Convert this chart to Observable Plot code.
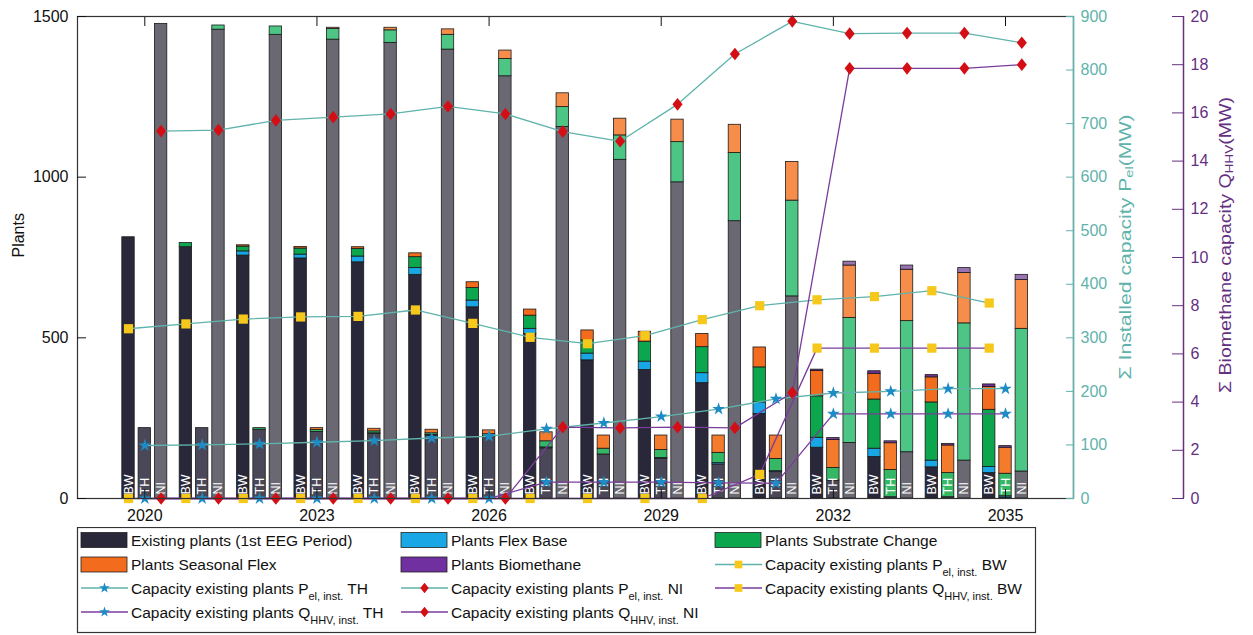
<!DOCTYPE html>
<html><head><meta charset="utf-8">
<script src="https://cdn.jsdelivr.net/npm/d3@7"></script>
<script src="https://cdn.jsdelivr.net/npm/@observablehq/plot@0.6"></script>
<style>
body{margin:0;background:#fff;font-family:"Liberation Sans",Arial,sans-serif;color:#111;}
#wrap{position:relative;width:1253px;height:635px;overflow:hidden;}
#wrap > svg{position:absolute;left:0;top:0;}
#wrap > svg.legend{top:527px;}
</style></head><body><div id="wrap"></div>
<script>
// ---------------- data ----------------
const years = [2020,2021,2022,2023,2024,2025,2026,2027,2028,2029,2030,2031,2032,2033,2034,2035];
const yearTicks = [2020,2023,2026,2029,2032,2035];
const regions = ["BW","TH","NI"];
const categories = ["Existing plants (1st EEG Period)","Plants Flex Base","Plants Substrate Change","Plants Seasonal Flex","Plants Biomethane"];

// plants per year (stacked)
const bwExisting  = [813,782,756,747,735,696,595,512,430,400,359,263,158,129,97,79];
const bwFlex      = [0,0,13,12,18,21,21,16,21,26,31,36,31,26,21,19];
const bwSubstrate = [0,13,15,19,24,34,39,41,41,62,81,109,129,153,181,178];
const bwSeasonal  = [0,0,4,5,5,12,18,19,31,31,41,62,79,80,78,71];
const bwBiometh   = [0,0,0,0,0,0,0,0,0,0,0,0,4,8,7,8];

const thExisting  = [219,219,214,207,201,196,191,156,137,123,106,82,56,4,4,3];
const thFlex      = [0,0,0,0,2,2,2,3,0,3,4,3,0,0,0,4];
const thSubstrate = [0,0,5,6,6,5,7,19,18,25,32,38,39,85,75,70];
const thSeasonal  = [0,0,0,6,8,11,12,28,41,45,54,73,87,83,86,81];
const thBiometh   = [0,0,0,0,0,0,0,0,0,0,0,0,6,6,5,5];

const niExisting  = [1477,1459,1443,1428,1418,1397,1314,1156,1054,984,863,629,173,144,118,84];
const niFlex      = [0,0,0,0,0,0,0,0,0,0,0,0,0,0,0,0];
const niSubstrate = [0,13,26,33,39,46,54,62,76,125,212,298,389,408,427,444];
const niSeasonal  = [0,0,0,4,8,17,26,43,52,70,88,120,163,160,157,152];
const niBiometh   = [0,0,0,0,0,0,0,0,0,0,0,0,12,13,15,16];

// installed electrical capacity P_el (MW), right axis 0-900
const pelBW = [317,326,335,339,340,352,327,301,289,304,334,360,371,377,388,365];
const pelTH = [99,100,102,105,108,113,116,130,141,153,167,186,197,200,205,205];
const pelNI = [686,688,706,712,718,732,718,685,667,736,830,891,868,869,869,851];

// biomethane capacity Q_HHV (MW), second right axis 0-20
const qBW = [0,0,0,0,0,0,0,0,0,0,0,1.0,6.24,6.24,6.24,6.24];
const qTH = [0,0,0,0,0,0,0,0.68,0.68,0.68,0.65,0.63,3.51,3.51,3.51,3.51];
const qNI = [0,0,0,0,0,0,0,2.96,2.93,2.96,2.93,4.39,17.85,17.85,17.85,18.0];

const plantTicks = [0,500,1000,1500];
const pelTicks = [0,100,200,300,400,500,600,700,800,900];
const qTicks = [0,2,4,6,8,10,12,14,16,18,20];

// ---------------- styling ----------------
const PMAX = 1500, PELMAX = 900, QMAX = 20;
const teal = "#5fb3ab", purpleAxis = "#64307f", purpleLine = "#7a3c9b";
const offsets = {BW: -0.284, TH: 0, NI: 0.284};
const halfW = 0.108;
const palette = {
  "Existing plants (1st EEG Period)": {BW:"#29283a", TH:"#4a4858", NI:"#6a6973"},
  "Plants Flex Base":                 {BW:"#18a6e4", TH:"#2aade6", NI:"#3fb5e8"},
  "Plants Substrate Change":          {BW:"#0ca64e", TH:"#34b866", NI:"#4dc685"},
  "Plants Seasonal Flex":             {BW:"#f36b1c", TH:"#f47a2c", NI:"#f68d4a"},
  "Plants Biomethane":                {BW:"#70309a", TH:"#7c419f", NI:"#9a73b1"}
};
// custom rhombus (slightly taller than wide) for the NI markers
const rhombus = {
  draw(ctx, size) {
    const w = Math.sqrt(size) * 0.55, h = w * 1.25;
    ctx.moveTo(0, -h); ctx.lineTo(w, 0); ctx.lineTo(0, h); ctx.lineTo(-w, 0); ctx.closePath();
  }
};
const markers = {
  BW: {symbol: "square", d3sym: d3.symbolSquare, fill:"#f6c81c", r:5.2},
  TH: {symbol: "star", d3sym: d3.symbolStar, fill:"#1d8cc6", r:4},
  NI: {symbol: rhombus, d3sym: rhombus, fill:"#d30f15", r:5.2}
};

const stacks = {
  BW: [bwExisting,bwFlex,bwSubstrate,bwSeasonal,bwBiometh],
  TH: [thExisting,thFlex,thSubstrate,thSeasonal,thBiometh],
  NI: [niExisting,niFlex,niSubstrate,niSeasonal,niBiometh]
};
const rows = [];
for (const r of regions) {
  years.forEach((yr, i) => {
    let cum = 0;
    categories.forEach((cat, c) => {
      const v = stacks[r][c][i];
      if (v > 0) rows.push({year: yr, region: r, cat, y1: cum, y2: cum + v});
      cum += v;
    });
  });
}
const labelRows = [];
for (const r of regions) years.forEach(yr => labelRows.push({year: yr, region: r}));

const pelSeries = {BW: pelBW, TH: pelTH, NI: pelNI};
const qSeries = {BW: qBW, TH: qTH, NI: qNI};
const pelRows = [], qRows = [];
for (const r of regions) years.forEach((yr, i) => {
  pelRows.push({year: yr, region: r, v: pelSeries[r][i]});
  qRows.push({year: yr, region: r, v: qSeries[r][i]});
});
const pelY = d => d.v * PMAX / PELMAX;
const qY = d => d.v * PMAX / QMAX;
const xr = d => d.year + offsets[d.region];

const xDomain = [2018.827, 2036.185];

const marks = [
  Plot.rect(rows, {x1: d => xr(d) - halfW, x2: d => xr(d) + halfW, y1: "y1", y2: "y2",
    fill: d => palette[d.cat][d.region], stroke: "#1a1a1a", strokeWidth: 0.8}),
  Plot.text(labelRows, {x: xr, y: 0, text: "region", rotate: -90, textAnchor: "start",
    lineAnchor: "middle", dy: -4, fill: "white", fontSize: 12.5}),
  Plot.line(pelRows, {x: xr, y: pelY, z: "region", stroke: teal, strokeWidth: 1.3}),
  Plot.line(qRows, {x: xr, y: qY, z: "region", stroke: purpleLine, strokeWidth: 1.3}),
];
for (const r of regions) {
  const m = markers[r];
  marks.push(Plot.dot(pelRows.filter(d => d.region === r), {x: xr, y: pelY, symbol: m.symbol, fill: m.fill, stroke: "none", r: m.r}));
  marks.push(Plot.dot(qRows.filter(d => d.region === r), {x: xr, y: qY, symbol: m.symbol, fill: m.fill, stroke: "none", r: m.r}));
}
marks.push(
  Plot.frame({stroke: "#333", strokeWidth: 1.2}),
  Plot.axisY(plantTicks, {anchor: "left", tickSize: -9, tickPadding: 18, label: null, fontSize: 16, tickFormat: d => String(d)}),
  Plot.text(["Plants"], {frameAnchor: "left", dx: -59, rotate: -90, fontSize: 16, fill: "#111"}),
  Plot.axisX(yearTicks, {anchor: "bottom", tickSize: -9, tickPadding: 20, label: null, fontSize: 16, tickFormat: d => String(d)}),
  Plot.axisX(yearTicks, {anchor: "top", tickSize: -9, label: null, tickFormat: () => ""}),
  Plot.ruleX([xDomain[1]], {stroke: teal, strokeWidth: 1.5}),
  Plot.axisY(pelTicks.map(v => v * PMAX / PELMAX), {anchor: "right", tickSize: -8, tickPadding: 15, label: null,
    color: teal, fontSize: 16, tickFormat: d => String(Math.round(d * PELMAX / PMAX))}),
  Plot.ruleX([xDomain[1]], {dx: 110, stroke: purpleAxis, strokeWidth: 1.5}),
  Plot.axisY(qTicks.map(v => v * PMAX / QMAX), {anchor: "right", dx: 110, tickSize: -12, tickPadding: 19, label: null,
    color: purpleAxis, fontSize: 16, tickFormat: d => String(Math.round(d * QMAX / PMAX))})
);

const chart = Plot.plot({
  width: 1253, height: 527,
  marginLeft: 77, marginRight: 180, marginTop: 16, marginBottom: 29,
  style: {fontFamily: '"Liberation Sans", Arial, sans-serif', fontSize: "16px", background: "white", color: "#111"},
  x: {type: "linear", domain: xDomain},
  y: {type: "linear", domain: [0, PMAX]},
  marks
});
document.getElementById("wrap").appendChild(chart);

// rotated right-axis titles with subscripts
const svg = d3.select(chart);
function rotTitle(x, y, color, len, main, sub, tail) {
  const t = svg.append("text")
    .attr("transform", `translate(${x},${y}) rotate(-90)`)
    .attr("text-anchor", "middle").attr("dominant-baseline", "central")
    .attr("fill", color).attr("font-size", 16)
    .attr("textLength", len).attr("lengthAdjust", "spacingAndGlyphs");
  t.append("tspan").text(main);
  t.append("tspan").attr("font-size", 11).attr("dy", 4).text(sub);
  t.append("tspan").attr("dy", -4).text(tail);
}
rotTitle(1125, 247, teal, 265, "\u03A3 Installed capacity P", "el", "(MW)");
rotTitle(1225, 245, purpleAxis, 296, "\u03A3 Biomethane capacity Q", "HHV", "(MW)");

// ---------------- legend ----------------
const lg = d3.select("#wrap").append("svg").attr("class", "legend")
  .attr("width", 1253).attr("height", 108)
  .style("font-family", '"Liberation Sans", Arial, sans-serif');
lg.append("rect").attr("x", 77.5).attr("y", 0.5).attr("width", 958).attr("height", 105)
  .attr("fill", "white").attr("stroke", "#333").attr("stroke-width", 1.2);
const colX = [81, 401, 715];
const rowY = [13, 37.5, 61, 85];
const legendItems = [
  {type: "patch", cat: categories[0], text: [categories[0]]},
  {type: "patch", cat: categories[1], text: [categories[1]]},
  {type: "patch", cat: categories[2], text: [categories[2]]},
  {type: "patch", cat: categories[3], text: [categories[3]]},
  {type: "patch", cat: categories[4], text: [categories[4]]},
  {type: "line", stroke: teal, region: "BW", text: ["Capacity existing plants P", "el, inst.", " BW"]},
  {type: "line", stroke: teal, region: "TH", text: ["Capacity existing plants P", "el, inst.", " TH"]},
  {type: "line", stroke: teal, region: "NI", text: ["Capacity existing plants P", "el, inst.", " NI"]},
  {type: "line", stroke: purpleLine, region: "BW", text: ["Capacity existing plants Q", "HHV, inst.", " BW"]},
  {type: "line", stroke: purpleLine, region: "TH", text: ["Capacity existing plants Q", "HHV, inst.", " TH"]},
  {type: "line", stroke: purpleLine, region: "NI", text: ["Capacity existing plants Q", "HHV, inst.", " NI"]}
];
const patchFill = {
  "Existing plants (1st EEG Period)": "#29283a", "Plants Flex Base": "#1aa7e6",
  "Plants Substrate Change": "#0ca64e", "Plants Seasonal Flex": "#f36b1c", "Plants Biomethane": "#7030a0"
};
legendItems.forEach((it, k) => {
  const x = colX[k % 3], y = rowY[Math.floor(k / 3)];
  const g = lg.append("g");
  if (it.type === "patch") {
    g.append("rect").attr("x", x).attr("y", y - 7.5).attr("width", 46).attr("height", 15)
      .attr("fill", patchFill[it.cat]).attr("stroke", "#222").attr("stroke-width", 0.8);
  } else {
    g.append("line").attr("x1", x).attr("x2", x + 47).attr("y1", y).attr("y2", y)
      .attr("stroke", it.stroke).attr("stroke-width", 1.3);
    const m = markers[it.region];
    g.append("path").attr("d", d3.symbol(m.d3sym, Math.PI * m.r * m.r * 0.7)())
      .attr("transform", `translate(${x + 23.5},${y})`).attr("fill", m.fill);
  }
  const t = g.append("text").attr("x", x + 50).attr("y", y).attr("dy", "0.36em")
    .attr("font-size", 15.5).attr("fill", "#111");
  t.append("tspan").text(it.text[0]);
  if (it.text.length > 1) {
    t.append("tspan").attr("font-size", 11).attr("dy", 6).text(it.text[1]);
    t.append("tspan").attr("dy", -6).text(it.text[2]);
  }
});
</script></body></html>
